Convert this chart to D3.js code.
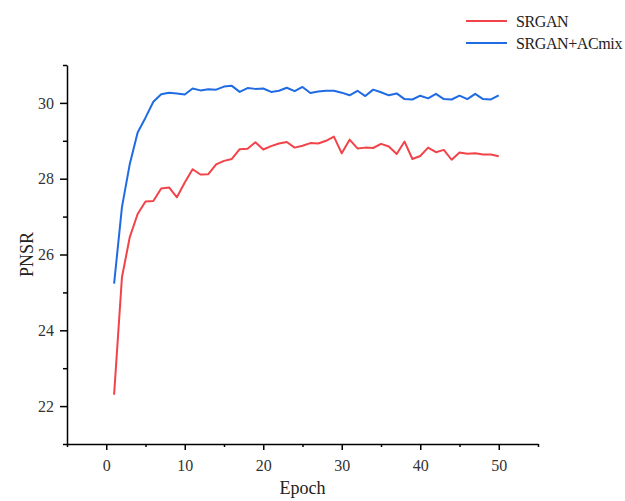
<!DOCTYPE html>
<html lang="en">

<head>
  <meta charset="utf-8">
  <title>PNSR vs Epoch</title>
  <style>
    body {
      margin: 0;
      background: #fff;
    }

    #chart text {
      font-family: "Liberation Serif", "DejaVu Serif", serif;
      fill: #222;
    }

    .axis path,
    .axis line {
      fill: none;
      stroke: #000;
      stroke-width: 1.5px;
    }

    .series {
      fill: none;
      stroke-width: 2px;
      stroke-linejoin: round;
    }
  </style>
</head>

<body>
  <div id="chart"></div>
</body>
<script src="https://d3js.org/d3.v7.min.js"></script>

<script>

  // data
  let epochs = d3.range(1, 51);

  let srgan = [22.30, 25.40, 26.46, 27.07, 27.40, 27.41, 27.74, 27.77, 27.51, 27.90,
    28.25, 28.11, 28.12, 28.38, 28.47, 28.52, 28.78, 28.79, 28.96, 28.77,
    28.86, 28.93, 28.97, 28.82, 28.87, 28.94, 28.93, 29.00, 29.11, 28.67,
    29.03, 28.80, 28.82, 28.81, 28.92, 28.85, 28.65, 28.98, 28.52, 28.60,
    28.82, 28.70, 28.76, 28.50, 28.69, 28.66, 28.67, 28.64, 28.64, 28.59];

  let srganAcmix = [25.23, 27.25, 28.39, 29.22, 29.61, 30.03, 30.23, 30.27, 30.25, 30.22,
    30.38, 30.33, 30.36, 30.35, 30.43, 30.45, 30.29, 30.39, 30.37, 30.38,
    30.29, 30.32, 30.40, 30.31, 30.42, 30.26, 30.30, 30.32, 30.32, 30.27,
    30.20, 30.32, 30.18, 30.35, 30.28, 30.20, 30.25, 30.10, 30.09, 30.19,
    30.12, 30.24, 30.10, 30.09, 30.19, 30.10, 30.24, 30.10, 30.09, 30.20];

  let seriesNames = ["SRGAN", "SRGAN+ACmix"];
  let seriesColors = ["#f2434a", "#1f6be3"];

  let xTicks = [0, 10, 20, 30, 40, 50];
  let yTicks = [22, 24, 26, 28, 30];

  let width = 625, height = 501;
  let mLeft = 67, mTop = 65, w = 471, h = 379;

  let svg = d3.select("#chart")
    .append("svg")
    .attr("width", width)
    .attr("height", height);

  let g = svg.append("g")
    .attr("transform", "translate(" + mLeft + "," + mTop + ")");

  let x = d3.scaleLinear().domain([-5, 55]).range([0, w]);
  let y = d3.scaleLinear().domain([21, 31]).range([h, 0]);

  // minor ticks first
  g.append("g")
    .attr("class", "axis")
    .attr("transform", "translate(0," + h + ")")
    .call(d3.axisBottom(x).tickValues(d3.range(-5, 56, 10)).tickSize(3).tickFormat(""))
    .select(".domain").remove();

  g.append("g")
    .attr("class", "axis")
    .call(d3.axisLeft(y).tickValues(d3.range(21, 32, 2)).tickSize(4).tickFormat(""))
    .select(".domain").remove();

  let xAxis = g.append("g")
    .attr("class", "axis")
    .attr("transform", "translate(0," + h + ")")
    .call(d3.axisBottom(x).tickValues(xTicks).tickSize(6).tickSizeOuter(0).tickPadding(10));

  xAxis.selectAll("text").style("font-size", "16px").style("fill", "#333");

  let yAxis = g.append("g")
    .attr("class", "axis")
    .call(d3.axisLeft(y).tickValues(yTicks).tickSize(7).tickSizeOuter(0).tickPadding(6));

  yAxis.selectAll("text").style("font-size", "16px").style("fill", "#333");

  g.append("text")
    .attr("x", w / 2)
    .attr("y", h + 50)
    .attr("text-anchor", "middle")
    .style("font-size", "18px")
    .text("Epoch");

  g.append("text")
    .attr("transform", "translate(-34," + (h / 2) + ") rotate(-90)")
    .attr("text-anchor", "middle")
    .style("font-size", "18px")
    .text("PNSR");

  let line = d3.line()
    .x((d, i) => { return x(epochs[i]) })
    .y((d) => { return y(d) });

  [srgan, srganAcmix].forEach((vals, i) => {
    g.append("path")
      .datum(vals)
      .attr("class", "series")
      .attr("stroke", seriesColors[i])
      .attr("d", line);
  });

  // legend
  let legend = svg.append("g")
    .attr("transform", "translate(466,21)");

  seriesNames.forEach((name, i) => {
    legend.append("line")
      .attr("x1", 0)
      .attr("x2", 41)
      .attr("y1", i * 22)
      .attr("y2", i * 22)
      .attr("stroke", seriesColors[i])
      .attr("stroke-width", 2);

    legend.append("text")
      .attr("x", 50)
      .attr("y", i * 22 + 6)
      .style("font-size", "16px")
      .style("letter-spacing", "-0.4px")
      .text(name);
  });

</script>

</html>
